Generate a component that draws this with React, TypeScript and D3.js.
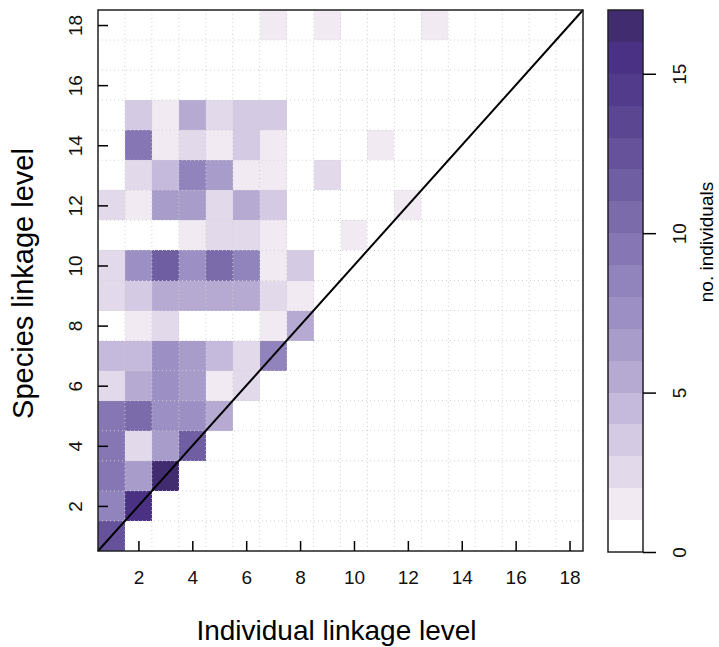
import React, { useEffect, useRef } from 'react';
import * as d3 from 'd3';

// linkage levels 1..18 on both axes
const levels = d3.range(1, 19);
const xTicks = [2, 4, 6, 8, 10, 12, 14, 16, 18];
const yTicks = [2, 4, 6, 8, 10, 12, 14, 16, 18];
const legendTicks = [0, 5, 10, 15];

// counts[species level - 1][individual level - 1]
const counts: number[][] = [
  [12, 0, 0, 0, 0, 0, 0, 0, 0, 0, 0, 0, 0, 0, 0, 0, 0, 0],
  [8, 15, 0, 0, 0, 0, 0, 0, 0, 0, 0, 0, 0, 0, 0, 0, 0, 0],
  [9, 6, 17, 0, 0, 0, 0, 0, 0, 0, 0, 0, 0, 0, 0, 0, 0, 0],
  [9, 2, 6, 11, 0, 0, 0, 0, 0, 0, 0, 0, 0, 0, 0, 0, 0, 0],
  [9, 10, 7, 7, 5, 0, 0, 0, 0, 0, 0, 0, 0, 0, 0, 0, 0, 0],
  [2, 5, 7, 6, 1, 2, 0, 0, 0, 0, 0, 0, 0, 0, 0, 0, 0, 0],
  [4, 4, 7, 6, 4, 2, 8, 0, 0, 0, 0, 0, 0, 0, 0, 0, 0, 0],
  [0, 1, 2, 0, 0, 0, 1, 5, 0, 0, 0, 0, 0, 0, 0, 0, 0, 0],
  [2, 3, 5, 5, 5, 5, 2, 1, 0, 0, 0, 0, 0, 0, 0, 0, 0, 0],
  [2, 7, 11, 7, 10, 8, 1, 3, 0, 0, 0, 0, 0, 0, 0, 0, 0, 0],
  [0, 0, 0, 1, 2, 2, 1, 0, 0, 1, 0, 0, 0, 0, 0, 0, 0, 0],
  [2, 1, 6, 6, 2, 5, 3, 0, 0, 0, 0, 1, 0, 0, 0, 0, 0, 0],
  [0, 2, 4, 8, 6, 1, 1, 0, 2, 0, 0, 0, 0, 0, 0, 0, 0, 0],
  [0, 9, 1, 2, 1, 3, 1, 0, 0, 0, 1, 0, 0, 0, 0, 0, 0, 0],
  [0, 3, 1, 5, 2, 3, 3, 0, 0, 0, 0, 0, 0, 0, 0, 0, 0, 0],
  [0, 0, 0, 0, 0, 0, 0, 0, 0, 0, 0, 0, 0, 0, 0, 0, 0, 0],
  [0, 0, 0, 0, 0, 0, 0, 0, 0, 0, 0, 0, 0, 0, 0, 0, 0, 0],
  [0, 0, 0, 0, 0, 0, 1, 0, 1, 0, 0, 0, 1, 0, 0, 0, 0, 0],
];

// one colour per unit band, 0-1 ... 16-17
const palette = [
  '#ffffff', '#f1eaf2', '#e2d9ea', '#d4cae3', '#c5badb', '#b6aad2',
  '#a89cca', '#9c8fc3', '#9183bc', '#8677b4', '#7b6bab', '#705ea2',
  '#65529a', '#5b4692', '#523b8b', '#4a3184', '#412c70',
];

const W = 719;
const H = 647;

const App: React.FC = () => {
  const svgRef = useRef<SVGSVGElement>(null);

  useEffect(() => {
    const svg = d3.select(svgRef.current);
    svg.selectAll('*').remove();

    const plot = { left: 98, right: 583, top: 10, bottom: 551 };
    const font = '"Liberation Sans", Arial, sans-serif';

    const x = d3.scaleLinear().domain([0.5, 18.5]).range([plot.left, plot.right]);
    const y = d3.scaleLinear().domain([0.5, 18.5]).range([plot.bottom, plot.top]);
    const color = (v: number) => palette[Math.min(Math.floor(v), palette.length - 1)];

    const cells = counts.flatMap((row, i) =>
      row.map((v, j) => ({ sp: levels[i], ind: levels[j], v }))
    );

    // cells
    svg.append('g')
      .selectAll('rect')
      .data(cells.filter(d => d.v > 0))
      .join('rect')
      .attr('x', d => x(d.ind - 0.5))
      .attr('y', d => y(d.sp + 0.5))
      .attr('width', x(1.5) - x(0.5))
      .attr('height', y(0.5) - y(1.5))
      .attr('fill', d => color(d.v))
      .attr('shape-rendering', 'crispEdges');

    // dotted grid on cell borders
    const grid = svg.append('g')
      .attr('stroke', '#cfcfcf')
      .attr('stroke-width', 1)
      .attr('stroke-dasharray', '1,3');
    grid.selectAll('line.v')
      .data(d3.range(1.5, 18.5, 1))
      .join('line')
      .attr('class', 'v')
      .attr('x1', d => x(d)).attr('x2', d => x(d))
      .attr('y1', plot.top).attr('y2', plot.bottom);
    grid.selectAll('line.h')
      .data(d3.range(1.5, 18.5, 1))
      .join('line')
      .attr('class', 'h')
      .attr('y1', d => y(d)).attr('y2', d => y(d))
      .attr('x1', plot.left).attr('x2', plot.right);

    // 1:1 line
    svg.append('line')
      .attr('x1', x(0.5)).attr('y1', y(0.5))
      .attr('x2', x(18.5)).attr('y2', y(18.5))
      .attr('stroke', 'black')
      .attr('stroke-width', 2);

    // frame
    svg.append('rect')
      .attr('x', plot.left).attr('y', plot.top)
      .attr('width', plot.right - plot.left)
      .attr('height', plot.bottom - plot.top)
      .attr('fill', 'none')
      .attr('stroke', '#222')
      .attr('stroke-width', 1.5);

    // X-axis (ticks inward)
    const gx = svg.append('g')
      .attr('transform', `translate(0,${plot.bottom})`)
      .call(d3.axisBottom(x).tickValues(xTicks).tickSizeInner(-10).tickSizeOuter(0).tickPadding(20));
    gx.select('.domain').remove();
    gx.selectAll('line').attr('stroke-width', 1.5);
    gx.selectAll('text').style('font-size', '19px').style('font-family', font).attr('fill', '#111');

    // Y-axis (ticks inward, labels rotated)
    const gy = svg.append('g')
      .attr('transform', `translate(${plot.left},0)`)
      .call(d3.axisLeft(y).tickValues(yTicks).tickSizeInner(-10).tickSizeOuter(0));
    gy.select('.domain').remove();
    gy.selectAll('line').attr('stroke-width', 1.5);
    gy.selectAll('text')
      .attr('x', null).attr('dy', null)
      .attr('text-anchor', 'middle')
      .attr('transform', 'translate(-16,0) rotate(-90)')
      .style('font-size', '19px').style('font-family', font).attr('fill', '#111');

    // axis titles
    svg.append('text')
      .attr('x', (plot.left + plot.right) / 2 - 4)
      .attr('y', 640)
      .attr('text-anchor', 'middle')
      .style('font-family', font)
      .style('font-size', '28px')
      .text('Individual linkage level');

    svg.append('text')
      .attr('transform', `translate(33,${(plot.top + plot.bottom) / 2 + 3}) rotate(-90)`)
      .attr('text-anchor', 'middle')
      .style('font-family', font)
      .style('font-size', '29px')
      .text('Species linkage level');

    // colour key
    const key = { left: 608, right: 643 };
    const cy = d3.scaleLinear().domain([0, 17]).range([552, 10]);
    svg.append('g')
      .selectAll('rect')
      .data(palette)
      .join('rect')
      .attr('x', key.left)
      .attr('width', key.right - key.left)
      .attr('y', (_, i) => cy(i + 1))
      .attr('height', cy(0) - cy(1))
      .attr('fill', d => d)
      .attr('shape-rendering', 'crispEdges');
    svg.append('rect')
      .attr('x', key.left).attr('y', cy(17))
      .attr('width', key.right - key.left)
      .attr('height', cy(0) - cy(17))
      .attr('fill', 'none')
      .attr('stroke', '#222')
      .attr('stroke-width', 1.5);

    const gk = svg.append('g')
      .attr('transform', `translate(${key.right},0)`)
      .call(d3.axisRight(cy).tickValues(legendTicks).tickSizeInner(13).tickSizeOuter(0));
    gk.select('.domain').remove();
    gk.selectAll('line').attr('stroke-width', 1.5);
    gk.selectAll('text')
      .attr('x', null).attr('dy', null)
      .attr('text-anchor', 'middle')
      .attr('transform', 'translate(43,0) rotate(-90)')
      .style('font-size', '19px').style('font-family', font).attr('fill', '#111');

    svg.append('text')
      .attr('transform', `translate(713,242) rotate(-90)`)
      .attr('text-anchor', 'middle')
      .style('font-family', font)
      .style('font-size', '19px')
      .text('no. individuals');
  }, []);

  return (
    <svg
      ref={svgRef}
      width={W}
      height={H}
      style={{ position: 'absolute', left: 0, top: 0, background: 'white' }}
    />
  );
};

export default App;
